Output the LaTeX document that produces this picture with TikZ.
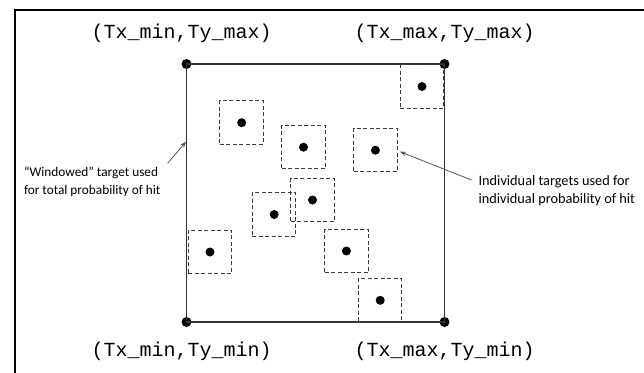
\documentclass[tikz,border=0pt]{standalone}
\usepackage{fontspec}
\setmainfont{Carlito}
\newfontfamily\coordfont{Liberation Mono}
\usetikzlibrary{arrows.meta}
\definecolor{edgegray}{HTML}{333333}
\definecolor{dashgray}{HTML}{3A3A3A}
\definecolor{pointergray}{HTML}{555555}
\begin{document}
\begin{tikzpicture}[x=1pt,y=-1pt,
  corner/.style={circle,fill=black,inner sep=0pt,minimum size=10pt},
  hitdot/.style={circle,fill=black,inner sep=0pt,minimum size=9pt},
  cell/.style={draw=dashgray,dashed,dash pattern=on 4pt off 2.5pt,line width=1pt,minimum width=43.5pt,minimum height=43.5pt,inner sep=0pt},
  coordlabel/.style={font=\coordfont\fontsize{20}{24}\selectfont,inner sep=0pt},
  note/.style={align=left,inner sep=0pt,anchor=west},
  pointer/.style={draw=pointergray,line width=0.8pt,-{Stealth[length=6pt,width=4.5pt]}}]
\useasboundingbox (0,0) rectangle (644,372);
% outer frame, running past the page edge
\begin{scope}
  \clip (0,0) rectangle (644,372);
  \draw[line width=2pt] (14.5,400) -- (14.5,10) -- (700,10);
\end{scope}
% window corners
\node[corner] (tl) at (186.5,64) {};
\node[corner] (tr) at (444.5,64) {};
\node[corner] (bl) at (186.5,322) {};
\node[corner] (br) at (444.5,322) {};
\draw[edgegray,line width=1.5pt] (tl.center) -- (tr.center) -- (br.center) -- (bl.center) -- cycle;
% individual targets
\foreach \n/\x/\y in {c1/422/86.5, c2/241.7/122.7, c3/303.5/147.2, c4/375.4/150.2,
                     c5/312.5/200, c6/274.2/214.5, c7/210/252, c8/346.4/251, c9/380.2/300.3}{
  \node[cell] (\n) at (\x,\y) {};
  \node[hitdot] (\n dot) at (\x,\y) {};
}
% corner labels
\node[coordlabel] (ltop) at (181.7,33) {(Tx\_min,Ty\_max)};
\node[coordlabel] (rtop) at (444.6,33) {(Tx\_max,Ty\_max)};
\node[coordlabel] (lbot) at (181.7,351) {(Tx\_min,Ty\_min)};
\node[coordlabel] (rbot) at (444.6,351) {(Tx\_max,Ty\_min)};
% annotations
\node[note,font=\fontsize{13.3}{17.7}\selectfont] (wnote) at (23.8,182) {“Windowed” target used\\for total probability of hit};
\node[note,font=\fontsize{14.3}{17.5}\selectfont] (inote) at (478.4,190.5) {Individual targets used for\\individual probability of hit};
\coordinate (wtail) at (167.6,163.3);
\coordinate (wtip) at (186,141.7);
\coordinate (itail) at (471.5,180);
\coordinate (itip) at (400,151.7);
\draw[pointer] (wtail) -- (wtip);
\draw[pointer] (itail) -- (itip);
\end{tikzpicture}
\end{document}
